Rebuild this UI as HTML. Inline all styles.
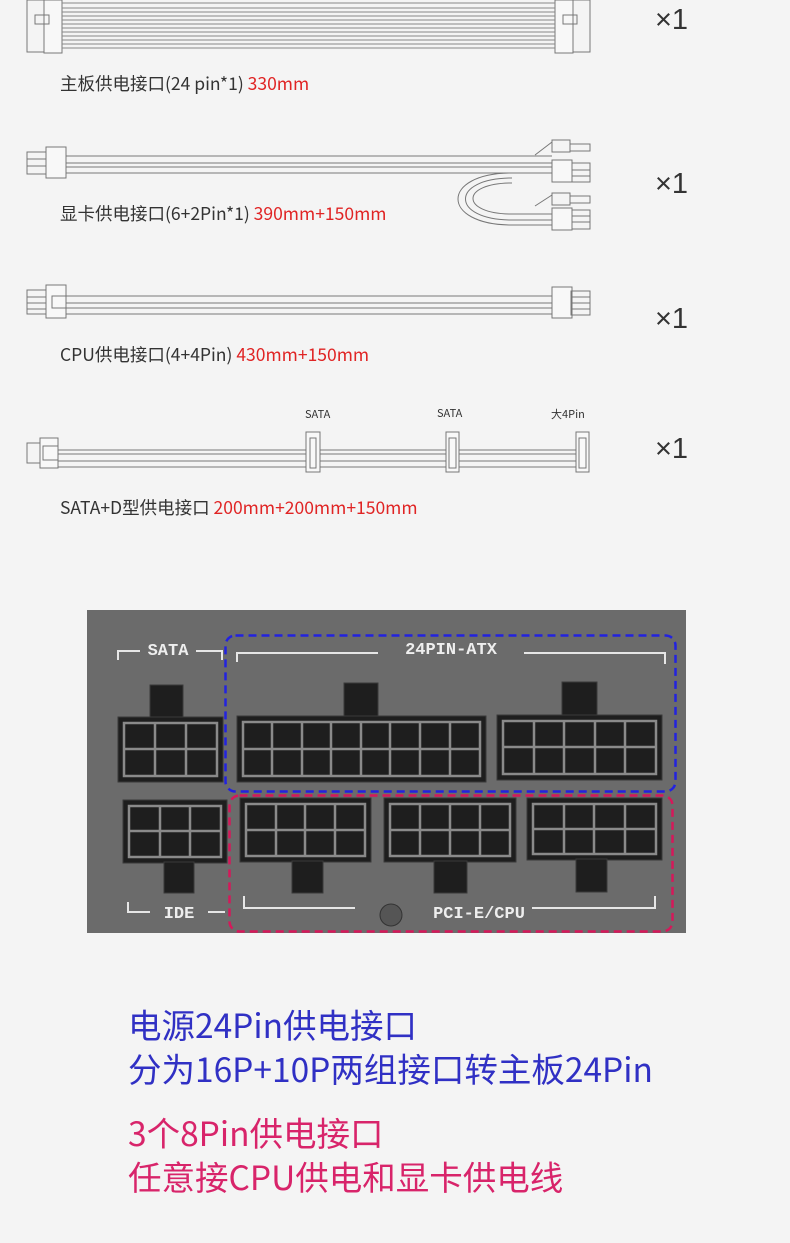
<!DOCTYPE html>
<html><head><meta charset="utf-8"><style>
html,body{margin:0;padding:0;background:#f4f4f4;}
body{width:790px;height:1243px;position:relative;overflow:hidden;font-family:"Noto Sans CJK SC","Liberation Sans",sans-serif;}
.t{position:absolute;left:60px;font-size:17.5px;color:#333;white-space:nowrap;line-height:24px;}
.r{color:#e02424;}
.x{position:absolute;left:655px;font-size:29px;color:#333;font-family:"Liberation Sans",sans-serif;font-weight:300;line-height:30px;}
.b{position:absolute;left:128px;font-size:33.5px;white-space:nowrap;line-height:40px;}
</style></head><body>
<svg width="790" height="1243" style="position:absolute;left:0;top:0" xmlns="http://www.w3.org/2000/svg">
<g fill="none" stroke="#777" stroke-width="1">
<rect x="27" y="0" width="18" height="52"/><rect x="44" y="0" width="18" height="53" fill="#f8f8f8"/>
<rect x="35" y="15" width="14" height="9"/>
<rect x="572" y="0" width="18" height="52"/><rect x="555" y="0" width="18" height="53" fill="#f8f8f8"/>
<rect x="563" y="15" width="14" height="9"/>
<path d="M62 3H555M62 8H555M62 12H555M62 16H555M62 20H555M62 24H555M62 28H555M62 32H555M62 36H555M62 40H555M62 44H555M62 48H555" stroke="#888"/>
<rect x="27" y="152" width="20" height="22"/><rect x="46" y="147" width="20" height="31" fill="#f8f8f8"/>
<path d="M66 156H552M66 163H552M66 167H552M66 173H552" />
<path d="M27 159H46M27 166H46" />
<rect x="552" y="160" width="20" height="22" fill="#f8f8f8"/><rect x="552" y="140" width="18" height="12"/><path d="M535 155L552 142M570 144H590V151H570"/>
<path d="M572 163H590V182H572M572 170H590M572 176H590"/>
<path d="M512 173C440 173 440 225 512 225H552M512 178C450 178 450 220 512 220H552M512 183C460 183 460 214 512 214H552"/>
<rect x="552" y="208" width="20" height="22" fill="#f8f8f8"/><rect x="552" y="193" width="18" height="12"/><path d="M535 206L552 195M570 196H590V203H570"/>
<path d="M572 210H590V229H572M572 216H590M572 222H590"/>
<rect x="27" y="290" width="20" height="24"/><rect x="46" y="285" width="20" height="33" fill="#f8f8f8"/>
<path d="M27 297H46M27 303H46M27 309H46"/><rect x="52" y="296" width="14" height="12"/>
<path d="M66 296H552M66 303H552M66 308H552M66 314H552"/>
<rect x="552" y="287" width="20" height="31" fill="#f8f8f8"/><rect x="571" y="291" width="19" height="24"/>
<path d="M571 297H590M571 303H590M571 309H590"/>
<rect x="27" y="443" width="14" height="20"/><rect x="40" y="438" width="18" height="30" fill="#f8f8f8"/><rect x="43" y="446" width="15" height="14"/>
<path d="M58 450H577M58 454H577M58 461H577M58 467H577"/>
<rect x="306" y="432" width="14" height="40" fill="#f8f8f8"/><rect x="310" y="438" width="6" height="30"/>
<rect x="446" y="432" width="13" height="40" fill="#f8f8f8"/><rect x="449" y="438" width="7" height="30"/>
<rect x="576" y="432" width="13" height="40" fill="#f8f8f8"/><rect x="579" y="438" width="7" height="30"/>
</g>
<g font-size="11" fill="#333" font-family="Noto Sans CJK SC, Liberation Sans, sans-serif">
<text x="305" y="418">SATA</text><text x="437" y="417">SATA</text><text x="551" y="418">大4Pin</text>
</g>
<rect x="87" y="610" width="599" height="323" fill="#6b6b6b"/>
<g fill="#1e1e1e" stroke="#3a3a3a">
<rect x="150" y="685" width="33" height="33"/><rect x="118" y="717" width="105" height="65"/>
<rect x="344" y="683" width="34" height="34"/><rect x="237" y="716" width="249" height="66"/>
<rect x="562" y="682" width="35" height="34"/><rect x="497" y="715" width="165" height="65"/>
<rect x="123" y="800" width="104" height="63"/><rect x="164" y="862" width="30" height="31"/>
<rect x="240" y="798" width="131" height="64"/><rect x="292" y="861" width="31" height="32"/>
<rect x="384" y="798" width="132" height="64"/><rect x="434" y="861" width="33" height="32"/>
<rect x="527" y="798" width="135" height="62"/><rect x="576" y="859" width="31" height="33"/>
</g>
<g fill="none" stroke="#8a8a8a" stroke-width="2.5">
<rect x="124" y="723" width="93" height="53"/><path d="M155 723V776M186 723V776M124 749H217"/>
<rect x="243" y="722" width="237" height="54"/><path d="M272 722V776M302 722V776M331 722V776M361 722V776M390 722V776M420 722V776M450 722V776M243 749H480"/>
<rect x="503" y="721" width="153" height="53"/><path d="M534 721V774M564 721V774M595 721V774M625 721V774M503 747H656"/>
<rect x="129" y="806" width="92" height="51"/><path d="M160 806V857M190 806V857M129 831H221"/>
<rect x="246" y="804" width="119" height="52"/><path d="M276 804V856M305 804V856M335 804V856M246 830H365"/>
<rect x="390" y="804" width="120" height="52"/><path d="M420 804V856M450 804V856M480 804V856M390 830H510"/>
<rect x="533" y="804" width="123" height="50"/><path d="M564 804V854M594 804V854M625 804V854M533 829H656"/>
</g>
<g fill="none" stroke="#e6e6e6" stroke-width="2">
<path d="M118 660V651H140M196 651H222V660"/>
<path d="M237 662V653H378M524 653H665V664"/>
<path d="M128 902V912H150M208 912H225"/>
<path d="M244 896V908H355M532 908H655V896"/>
</g>
<circle cx="391" cy="915" r="11" fill="#555" stroke="#333"/>
<g font-size="17" font-weight="bold" fill="#eee" font-family="Liberation Mono, monospace" text-anchor="middle">
<text x="168" y="655">SATA</text><text x="451" y="654">24PIN-ATX</text><text x="179" y="918">IDE</text><text x="479" y="918">PCI-E/CPU</text>
</g>
<rect x="225.5" y="635.5" width="450" height="156" rx="10" fill="none" stroke="#2222e0" stroke-width="2.5" stroke-dasharray="8,5"/>
<rect x="229.5" y="795.5" width="443" height="136" rx="10" fill="none" stroke="#d6185a" stroke-width="2.5" stroke-dasharray="8,5"/>
</svg>
<div class="t" style="top:72px">主板供电接口(24 pin*1) <span class="r">330mm</span></div>
<div class="t" style="top:202px">显卡供电接口(6+2Pin*1) <span class="r">390mm+150mm</span></div>
<div class="t" style="top:343px">CPU供电接口(4+4Pin) <span class="r">430mm+150mm</span></div>
<div class="t" style="top:496px">SATA+D型供电接口 <span class="r">200mm+200mm+150mm</span></div>
<div class="x" style="top:5px">×1</div>
<div class="x" style="top:169px">×1</div>
<div class="x" style="top:304px">×1</div>
<div class="x" style="top:434px">×1</div>
<div class="b" style="top:1004px;color:#3030c4">电源24Pin供电接口</div>
<div class="b" style="top:1048px;color:#3030c4">分为16P+10P两组接口转主板24Pin</div>
<div class="b" style="top:1112px;color:#d8246a">3个8Pin供电接口</div>
<div class="b" style="top:1156px;color:#d8246a">任意接CPU供电和显卡供电线</div>
</body></html>
